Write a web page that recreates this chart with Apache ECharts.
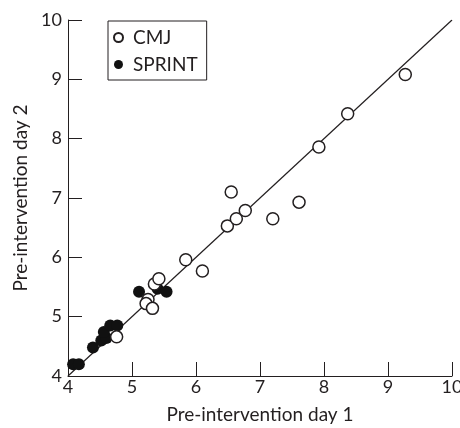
<!DOCTYPE html>
<html lang="en">
<head>
    <meta charset="UTF-8">
    <title>Pre-intervention day 1 vs day 2</title>
    <script src="https://cdn.jsdelivr.net/npm/echarts@6.0.0/dist/echarts.min.js"></script>
    <style>
        html, body {
            margin: 0;
            padding: 0;
            background: #fff;
        }
        #main {
            width: 460px;
            height: 428px;
        }
    </style>
</head>
<body>
<div id="main"></div>
<script type="text/javascript">
    // values
    var cmjX = [4.76, 5.25, 5.22, 5.32, 5.35, 5.42, 5.84, 6.10, 6.49, 6.63, 6.77, 6.55, 7.20, 7.61, 7.92, 8.37, 9.27];
    var cmjY = [4.66, 5.29, 5.22, 5.14, 5.55, 5.64, 5.96, 5.77, 6.53, 6.65, 6.79, 7.10, 6.65, 6.93, 7.86, 8.42, 9.08];

    var sprintX = [4.08, 4.17, 4.39, 4.52, 4.60, 4.56, 4.66, 4.77, 5.11, 5.40, 5.54];
    var sprintY = [4.20, 4.20, 4.48, 4.60, 4.64, 4.74, 4.85, 4.85, 5.42, 5.47, 5.42];

    var lineX = [4, 10];
    var lineY = [4, 10];

    var axisTicks = [4, 5, 6, 7, 8, 9, 10];
    var seriesNames = ['CMJ', 'SPRINT'];

    function pairs(xs, ys) {
        return xs.map(function (x, i) {
            return [x, ys[i]];
        });
    }

    var ink = '#231f20';
    var font = 'Lato';

    var myChart = echarts.init(document.getElementById('main'), null, {renderer: 'canvas'});

    function axis(name, gap) {
        return {
            type: 'value',
            min: axisTicks[0],
            max: axisTicks[axisTicks.length - 1],
            interval: 1,
            name: name,
            nameLocation: 'middle',
            nameGap: gap,
            nameTextStyle: {color: ink, fontFamily: font, fontSize: 19},
            axisLine: {show: true, onZero: false, lineStyle: {color: ink, width: 1}},
            axisTick: {show: true, inside: true, length: 14, lineStyle: {color: ink, width: 1}},
            axisLabel: {color: ink, fontFamily: font, fontSize: 18, showMaxLabel: true, showMinLabel: true},
            splitLine: {show: false}
        };
    }

    var xAxis = axis('Pre-intervention day 1', 29);
    xAxis.axisLabel.margin = 2;
    var yAxis = axis('Pre-intervention day 2', 34);
    yAxis.axisLabel.margin = 6;

    var option = {
        animation: false,
        backgroundColor: '#fff',
        grid: {
            left: 68,
            top: 20,
            width: 384,
            height: 356,
            containLabel: false,
            outerBoundsMode: 'none'
        },
        legend: {
            data: seriesNames,
            orient: 'vertical',
            left: 108,
            top: 21,
            icon: 'circle',
            itemWidth: 19,
            itemHeight: 9,
            itemGap: 8,
            padding: [7, 9, 6, 5],
            borderColor: ink,
            borderWidth: 1,
            textStyle: {color: ink, fontFamily: font, fontSize: 19}
        },
        xAxis: xAxis,
        yAxis: yAxis,
        series: [
            {
                name: 'fit',
                type: 'line',
                data: pairs(lineX, lineY),
                showSymbol: false,
                symbol: 'none',
                lineStyle: {color: ink, width: 1.2},
                z: 1,
                silent: true
            },
            {
                name: seriesNames[0],
                type: 'scatter',
                data: pairs(cmjX, cmjY),
                symbol: 'circle',
                symbolSize: 12,
                itemStyle: {color: '#fff', borderColor: ink, borderWidth: 1.5, opacity: 1},
                z: 3
            },
            {
                name: seriesNames[1],
                type: 'scatter',
                data: pairs(sprintX, sprintY),
                symbol: 'circle',
                symbolSize: 12,
                itemStyle: {color: '#111', opacity: 1},
                z: 2
            }
        ]
    };

    myChart.setOption(option);
</script>
</body>
</html>
